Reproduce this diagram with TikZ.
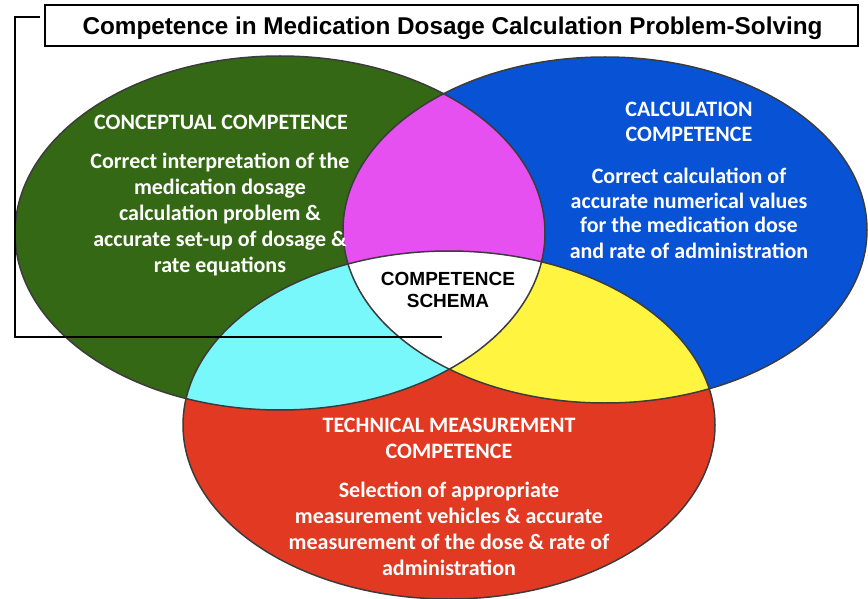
\documentclass[tikz,border=0pt]{standalone}
\usepackage{fontspec}
\newfontfamily\carl{Carlito}
\newfontfamily\libsans{Liberation Sans}
\definecolor{cgreen}{RGB}{52,104,20}
\definecolor{cblue}{RGB}{8,82,214}
\definecolor{cmag}{RGB}{230,80,240}
\definecolor{ccyan}{RGB}{120,248,250}
\definecolor{cyell}{RGB}{255,245,64}
\definecolor{cred}{RGB}{226,58,34}
\definecolor{edgegray}{RGB}{60,60,60}
\begin{document}
\begin{tikzpicture}[x=1pt,y=-1pt,
  wtxt/.style={text=white,font=\carl\bfseries\fontsize{22}{26}\selectfont,anchor=base,inner sep=0pt},
  btxt/.style={text=black,font=\libsans\bfseries\fontsize{19}{22}\selectfont,anchor=base,inner sep=0pt},
  outline/.style={draw=edgegray,line width=1.5pt},
  bracket/.style={draw=black,line width=2.4pt},
]
\useasboundingbox[fill=white] (0,0) rectangle (868,599);
% full ellipses
\fill[cgreen] (280,233) ellipse [x radius=265pt,y radius=177pt];
\fill[cblue] (605,230) ellipse [x radius=262pt,y radius=173pt];
\fill[cred] (449,425) ellipse [x radius=266pt,y radius=174pt];
% pairwise intersections
\begin{scope}
  \clip (280,233) ellipse [x radius=265pt,y radius=177pt];
  \fill[cmag] (605,230) ellipse [x radius=262pt,y radius=173pt];
  \fill[ccyan] (449,425) ellipse [x radius=266pt,y radius=174pt];
\end{scope}
\begin{scope}
  \clip (605,230) ellipse [x radius=262pt,y radius=173pt];
  \fill[cyell] (449,425) ellipse [x radius=266pt,y radius=174pt];
  \clip (280,233) ellipse [x radius=265pt,y radius=177pt];
  \fill[white] (449,425) ellipse [x radius=266pt,y radius=174pt];
\end{scope}
% outlines
\draw[outline] (280,233) ellipse [x radius=265pt,y radius=177pt];
\draw[outline] (605,230) ellipse [x radius=262pt,y radius=173pt];
\draw[outline] (449,425) ellipse [x radius=266pt,y radius=174pt];
% title
\node[draw=black,line width=2pt,minimum width=813pt,minimum height=41pt,inner sep=0pt] (titlebox) at (451.5,25.5) {};
\node[anchor=base,inner sep=0pt,font=\libsans\bfseries\fontsize{24.3}{28}\selectfont] (title) at (452.5,34.5) {Competence in Medication Dosage Calculation Problem-Solving};
% bracket
\coordinate (b1) at (40,17);
\coordinate (b2) at (15,17);
\coordinate (b3) at (15,337);
\coordinate (b4) at (442,337);
\draw[bracket] (b1) -- (b2) -- (b3) -- (b4);
% conceptual
\node[wtxt] (g0) at (221,130) {CONCEPTUAL COMPETENCE};
\node[wtxt] (g1) at (220,168) {Correct interpretation of the};
\node[wtxt] (g2) at (220,194) {medication dosage};
\node[wtxt] (g3) at (220,220) {calculation problem \&};
\node[wtxt] (g4) at (220,246) {accurate set-up of dosage \&};
\node[wtxt] (g5) at (220,272) {rate equations};
% calculation
\node[wtxt] (c0) at (689,117) {CALCULATION};
\node[wtxt] (c1) at (689,142) {COMPETENCE};
\node[wtxt] (c2) at (689,183) {Correct calculation of};
\node[wtxt] (c3) at (689,208) {accurate numerical values};
\node[wtxt] (c4) at (689,233) {for the medication dose};
\node[wtxt] (c5) at (689,258) {and rate of administration};
% technical
\node[wtxt] (t0) at (449,432) {TECHNICAL MEASUREMENT};
\node[wtxt] (t1) at (449,458) {COMPETENCE};
\node[wtxt] (t2) at (449,497) {Selection of appropriate};
\node[wtxt] (t3) at (449,523) {measurement vehicles \& accurate};
\node[wtxt] (t4) at (449,549) {measurement of the dose \& rate of};
\node[wtxt] (t5) at (449,575) {administration};
% schema
\node[btxt] (s0) at (448,285) {COMPETENCE};
\node[btxt] (s1) at (448,307) {SCHEMA};
\end{tikzpicture}
\end{document}
